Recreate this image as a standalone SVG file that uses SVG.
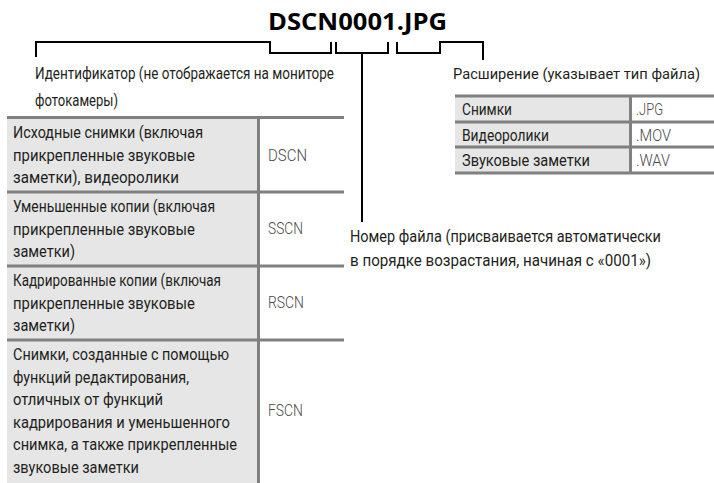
<svg xmlns="http://www.w3.org/2000/svg" width="714" height="483" viewBox="0 0 714 483">
<style>
  text { font-family: "Roboto", "Open Sans", "Liberation Sans", sans-serif; font-size: 16.5px; fill: #231f20; }
  .title { font-family: "Open Sans", "Liberation Sans", sans-serif; font-weight: bold; font-size: 24px; fill: #000; }
  .code { fill: #4a4a4a; font-weight: 300; }
  .conn { fill: none; stroke: #000; stroke-width: 2; }
  .rule { stroke: #808080; stroke-width: 3; fill: none; }
  .cell { fill: #e6e6e6; }
</style>
<rect width="714" height="483" fill="#fff"/>

<g id="title">
  <text class="title" x="268" y="30" textLength="179" lengthAdjust="spacingAndGlyphs">DSCN0001.JPG</text>
</g>

<g id="connectors">
  <path class="conn" d="M36,57 V42 H270 V53 H331 V42"/>
  <path class="conn" d="M336,42 V53 H388 V42"/>
  <path class="conn" d="M362,53 V222"/>
  <path class="conn" d="M397,42 V53 H440 V42 H483 V60"/>
</g>

<g id="identifier-label">
  <text x="35" y="79" textLength="299" lengthAdjust="spacingAndGlyphs">Идентификатор (не отображается на мониторе</text>
  <text x="35" y="106" textLength="83" lengthAdjust="spacingAndGlyphs">фотокамеры)</text>
</g>

<g id="identifier-table">
  <rect class="cell" x="7" y="117" width="251" height="366"/>
  <line class="rule" x1="7" y1="117.5" x2="344" y2="117.5"/>
  <line class="rule" x1="7" y1="192" x2="344" y2="192"/>
  <line class="rule" x1="7" y1="266" x2="344" y2="266"/>
  <line class="rule" x1="7" y1="340" x2="344" y2="340"/>
  <line class="rule" x1="258.5" y1="117" x2="258.5" y2="483"/>

  <text x="13" y="138" textLength="190" lengthAdjust="spacingAndGlyphs">Исходные снимки (включая</text>
  <text x="13" y="160.5" textLength="182" lengthAdjust="spacingAndGlyphs">прикрепленные звуковые</text>
  <text x="13" y="183" textLength="166" lengthAdjust="spacingAndGlyphs">заметки), видеоролики</text>
  <text class="code" x="268" y="161" textLength="39" lengthAdjust="spacingAndGlyphs">DSCN</text>

  <text x="13" y="212" textLength="202" lengthAdjust="spacingAndGlyphs">Уменьшенные копии (включая</text>
  <text x="13" y="234.5" textLength="182" lengthAdjust="spacingAndGlyphs">прикрепленные звуковые</text>
  <text x="13" y="257" textLength="62" lengthAdjust="spacingAndGlyphs">заметки)</text>
  <text class="code" x="268" y="234" textLength="35" lengthAdjust="spacingAndGlyphs">SSCN</text>

  <text x="13" y="286" textLength="208" lengthAdjust="spacingAndGlyphs">Кадрированные копии (включая</text>
  <text x="13" y="308.5" textLength="182" lengthAdjust="spacingAndGlyphs">прикрепленные звуковые</text>
  <text x="13" y="331" textLength="62" lengthAdjust="spacingAndGlyphs">заметки)</text>
  <text class="code" x="268" y="308" textLength="36" lengthAdjust="spacingAndGlyphs">RSCN</text>

  <text x="13" y="360" textLength="216" lengthAdjust="spacingAndGlyphs">Снимки, созданные с помощью</text>
  <text x="13" y="382.5" textLength="176" lengthAdjust="spacingAndGlyphs">функций редактирования,</text>
  <text x="13" y="405" textLength="150" lengthAdjust="spacingAndGlyphs">отличных от функций</text>
  <text x="13" y="427.5" textLength="217" lengthAdjust="spacingAndGlyphs">кадрирования и уменьшенного</text>
  <text x="13" y="450" textLength="224" lengthAdjust="spacingAndGlyphs">снимка, а также прикрепленные</text>
  <text x="13" y="472.5" textLength="126" lengthAdjust="spacingAndGlyphs">звуковые заметки</text>
  <text class="code" x="268" y="416" textLength="35" lengthAdjust="spacingAndGlyphs">FSCN</text>
</g>

<g id="extension-label">
  <text x="453" y="79" style="font-size:15px" textLength="247" lengthAdjust="spacingAndGlyphs">Расширение (указывает тип файла)</text>
</g>

<g id="extension-table">
  <rect class="cell" x="455" y="96" width="175" height="77"/>
  <line class="rule" x1="455" y1="96" x2="714" y2="96"/>
  <line class="rule" x1="455" y1="122" x2="714" y2="122"/>
  <line class="rule" x1="455" y1="147" x2="714" y2="147"/>
  <line class="rule" x1="455" y1="173" x2="714" y2="173"/>
  <line class="rule" x1="630.5" y1="96" x2="630.5" y2="173"/>
  <text x="462" y="115" textLength="50" lengthAdjust="spacingAndGlyphs">Снимки</text>
  <text x="462" y="140.5" textLength="87" lengthAdjust="spacingAndGlyphs">Видеоролики</text>
  <text x="462" y="166" textLength="128" lengthAdjust="spacingAndGlyphs">Звуковые заметки</text>
  <text class="code" x="636" y="115" textLength="27" lengthAdjust="spacingAndGlyphs">.JPG</text>
  <text class="code" x="636" y="140.5" textLength="35" lengthAdjust="spacingAndGlyphs">.MOV</text>
  <text class="code" x="636" y="166" textLength="34" lengthAdjust="spacingAndGlyphs">.WAV</text>
</g>

<g id="number-label">
  <text x="350" y="242" textLength="311" lengthAdjust="spacingAndGlyphs">Номер файла (присваивается автоматически</text>
  <text x="350" y="266" textLength="301" lengthAdjust="spacingAndGlyphs">в порядке возрастания, начиная с «0001»)</text>
</g>
</svg>
